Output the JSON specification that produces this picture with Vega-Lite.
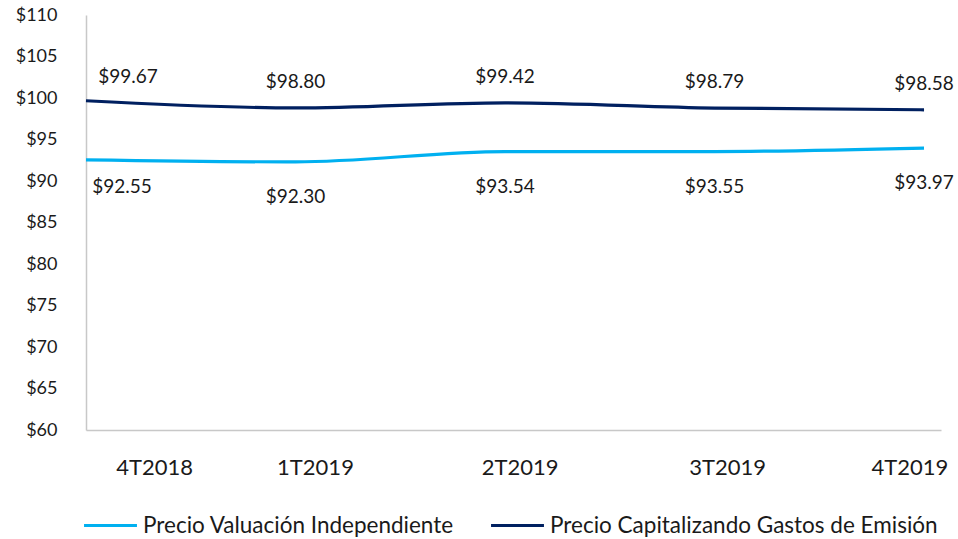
{
  "$schema": "https://vega.github.io/schema/vega-lite/v6.json",
  "width": 855,
  "height": 415,
  "autosize": {"type": "none"},
  "padding": {"left": 86, "top": 15, "right": 17, "bottom": 109},
  "background": "white",
  "config": {
    "view": {"stroke": null},
    "font": "Lato",
    "text": {"font": "Lato", "fontSize": 19, "color": "#1a1a1a"}
  },
  "data": {
    "values": [
      {"trimestre": "4T2018", "orden": 0, "serie": "Precio Valuación Independiente", "valor": 92.55},
      {"trimestre": "1T2019", "orden": 1, "serie": "Precio Valuación Independiente", "valor": 92.30},
      {"trimestre": "2T2019", "orden": 2, "serie": "Precio Valuación Independiente", "valor": 93.54},
      {"trimestre": "3T2019", "orden": 3, "serie": "Precio Valuación Independiente", "valor": 93.55},
      {"trimestre": "4T2019", "orden": 4, "serie": "Precio Valuación Independiente", "valor": 93.97},
      {"trimestre": "4T2018", "orden": 0, "serie": "Precio Capitalizando Gastos de Emisión", "valor": 99.67},
      {"trimestre": "1T2019", "orden": 1, "serie": "Precio Capitalizando Gastos de Emisión", "valor": 98.80},
      {"trimestre": "2T2019", "orden": 2, "serie": "Precio Capitalizando Gastos de Emisión", "valor": 99.42},
      {"trimestre": "3T2019", "orden": 3, "serie": "Precio Capitalizando Gastos de Emisión", "valor": 98.79},
      {"trimestre": "4T2019", "orden": 4, "serie": "Precio Capitalizando Gastos de Emisión", "valor": 98.58}
    ]
  },
  "encoding": {
    "x": {
      "field": "orden",
      "type": "quantitative",
      "scale": {"domain": [0, 4.081], "nice": false, "zero": false},
      "axis": {
        "title": null,
        "grid": false,
        "ticks": false,
        "values": [0.325, 1.093, 2.07, 3.06, 3.93],
        "labelExpr": "datum.value < 0.7 ? '4T2018' : datum.value < 1.5 ? '1T2019' : datum.value < 2.5 ? '2T2019' : datum.value < 3.5 ? '3T2019' : '4T2019'",
        "labelFont": "Lato",
        "labelFontSize": 22,
        "labelColor": "#1a1a1a",
        "labelPadding": 27,
        "labelFlush": false,
        "labelOverlap": false,
        "domainColor": "#C8C8C8",
        "domainWidth": 1.5
      }
    },
    "y": {
      "field": "valor",
      "type": "quantitative",
      "scale": {"domain": [60, 110], "nice": false, "zero": false},
      "axis": {
        "title": null,
        "grid": false,
        "ticks": false,
        "values": [60, 65, 70, 75, 80, 85, 90, 95, 100, 105, 110],
        "format": "$d",
        "labelFont": "Lato",
        "labelFontSize": 18,
        "labelColor": "#1a1a1a",
        "labelPadding": 29,
        "domainColor": "#C8C8C8",
        "domainWidth": 1.5
      }
    }
  },
  "layer": [
    {
      "mark": {"type": "line", "strokeWidth": 3.2, "interpolate": "monotone"},
      "encoding": {
        "color": {
          "field": "serie",
          "type": "nominal",
          "scale": {
            "domain": ["Precio Valuación Independiente", "Precio Capitalizando Gastos de Emisión"],
            "range": ["#00B0F0", "#002060"]
          },
          "legend": {
            "title": null,
            "orient": "none",
            "direction": "horizontal",
            "legendX": -4,
            "legendY": 482,
            "symbolType": "stroke",
            "symbolSize": 2800,
            "symbolStrokeWidth": 3.2,
            "labelFont": "Lato",
            "labelFontSize": 22.5,
            "labelColor": "#1a1a1a",
            "labelOffset": 4,
            "columnPadding": 30,
            "labelLimit": 500
          }
        }
      }
    },
    {
      "transform": [{"filter": "datum.serie == 'Precio Capitalizando Gastos de Emisión' && datum.orden > 0"}],
      "mark": {"type": "text", "dy": -26},
      "encoding": {"text": {"field": "valor", "type": "quantitative", "format": "$.2f"}}
    },
    {
      "transform": [{"filter": "datum.serie == 'Precio Capitalizando Gastos de Emisión' && datum.orden == 0"}],
      "mark": {"type": "text", "dy": -24, "dx": 42},
      "encoding": {"text": {"field": "valor", "type": "quantitative", "format": "$.2f"}}
    },
    {
      "transform": [{"filter": "datum.serie == 'Precio Valuación Independiente' && datum.orden > 0"}],
      "mark": {"type": "text", "dy": 35},
      "encoding": {"text": {"field": "valor", "type": "quantitative", "format": "$.2f"}}
    },
    {
      "transform": [{"filter": "datum.serie == 'Precio Valuación Independiente' && datum.orden == 0"}],
      "mark": {"type": "text", "dy": 27, "dx": 36},
      "encoding": {"text": {"field": "valor", "type": "quantitative", "format": "$.2f"}}
    }
  ]
}
